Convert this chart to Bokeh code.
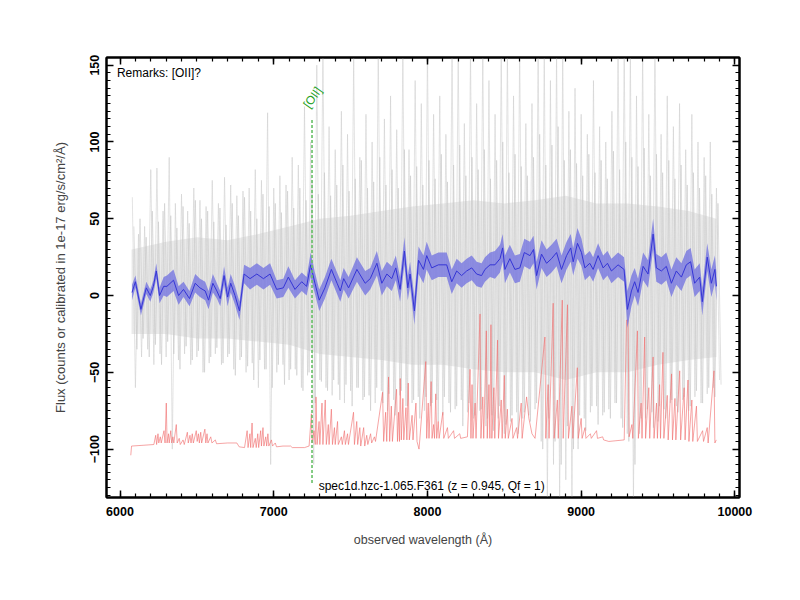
from bokeh.plotting import figure
from bokeh.models import LinearAxis, SingleIntervalTicker
from bokeh.embed import file_html
from bokeh.resources import INLINE
from bokeh.core.properties import value

# ---------------- data ----------------
# grey raw spectrum: tall spikes (upper / lower extent), sampled every 40 A
grey_wave = list(range(6080, 9881, 40))
grey_hi = [64, 40, 45, 82, 83, 55,
           90, 60, 66, 55, 70, 62, 58, 75,
           60, 77, 72, 65, 68, 70, 82, 75, 119,
           70, 78, 72, 90, 85, 123, 100, 150,
           160, 110, 95, 120, 105, 155, 90, 118,
           100, 160, 115, 130, 108, 160, 95, 140, 125,
           160, 118, 130, 105, 160, 160, 112, 160,
           125, 160, 140, 118, 160, 160, 130, 160,
           112, 125, 160, 160, 140, 160, 160, 120,
           135, 118, 105, 140, 110, 100, 120, 160,
           160, 160, 130, 160, 118, 160, 105, 130,
           110, 125, 95, 118, 100, 90, 100, 70]
grey_lo = [-60, -40, -35, -45, -38, -40,
           -100, -42, -38, -45, -40, -50, -44, -38,
           -45, -40, -48, -42, -50, -44, -60, -48, -110,
           -50, -45, -55, -48, -60, -52, -110, -55,
           -60, -65, -58, -70, -62, -60, -68, -65,
           -70, -62, -75, -68, -65, -72, -70, -66, -75,
           -72, -68, -78, -70, -74, -68, -76, -80,
           -75, -85, -78, -80, -90, -82, -76, -80,
           -78, -74, -95, -135, -110, -135, -120, -135,
           -100, -80, -76, -72, -78, -74, -70, -80,
           -90, -135, -90, -80, -76, -82, -74, -70,
           -72, -68, -75, -66, -70, -64, -60, -55]
# grey raw spectrum: medium pixels in between (sampled at 40 A, offset 10 A)
grey2_wave = list(range(6090, 9891, 40))
grey2_hi = [45, 50, 38, 55, 48, 60,
            52, 44, 58, 47, 62, 50, 55, 48,
            57, 46, 60, 52, 64, 55, 50, 66, 58,
            60, 54, 68, 57, 70, 62, 75, 66,
            80, 65, 72, 85, 68, 76, 88, 70,
            74, 90, 72, 82, 70, 95, 78, 84, 72,
            88, 76, 92, 74, 85, 98, 78, 90,
            82, 95, 76, 88, 100, 80, 92, 84,
            78, 90, 105, 85, 98, 110, 88, 95,
            86, 78, 92, 80, 88, 76, 94, 82,
            100, 90, 84, 96, 78, 92, 80, 88,
            76, 85, 72, 80, 70, 78, 66, 60]
grey2_lo = [-35, -28, -40, -32, -45, -30,
            -38, -48, -33, -42, -36, -50, -40, -34,
            -44, -38, -52, -40, -46, -55, -42, -48, -60,
            -45, -58, -48, -52, -62, -50, -70, -56,
            -62, -55, -68, -58, -72, -60, -66, -75,
            -60, -70, -64, -78, -62, -72, -68, -80, -66,
            -70, -82, -66, -76, -72, -85, -70, -78,
            -74, -80, -88, -72, -84, -78, -90, -76,
            -82, -70, -100, -80, -95, -110, -85, -100,
            -78, -88, -72, -84, -76, -80, -70, -86,
            -95, -110, -80, -74, -86, -72, -80, -68,
            -76, -66, -72, -62, -70, -60, -66, -58]
# dense core of the grey spectrum
core_wave = [6075, 6300, 6500, 6700, 6900, 7100, 7300, 7500, 7700, 7900,
             8100, 8300, 8500, 8700, 8900, 9100, 9300, 9500, 9700, 9880]
core_hi = [30, 35, 38, 36, 40, 45, 50, 52, 55, 58,
           60, 62, 60, 62, 65, 60, 60, 58, 55, 50]
core_lo = [-25, -25, -28, -28, -30, -32, -38, -40, -42, -45,
           -45, -48, -50, -50, -55, -50, -50, -45, -42, -40]

# smoothed flux (blue) and its error
blue_wave = [6078, 6100, 6136, 6171, 6197, 6217, 6236, 6257, 6284, 6305,
             6348, 6381, 6413, 6452, 6489, 6520, 6554, 6576, 6604, 6630,
             6652, 6677, 6700, 6720, 6748, 6777, 6807, 6846, 6890, 6933,
             6976, 7019, 7062, 7095, 7138, 7182, 7214, 7240, 7268, 7296,
             7333, 7375, 7412, 7433, 7455, 7487, 7541, 7595, 7628, 7671,
             7703, 7736, 7768, 7794, 7822, 7850, 7872, 7887, 7915, 7942,
             7974, 7995, 8028, 8071, 8125, 8158, 8190, 8222, 8255, 8288,
             8320, 8352, 8374, 8407, 8439, 8472, 8489, 8504, 8536, 8569,
             8601, 8630, 8667, 8690, 8710, 8742, 8775, 8807, 8840, 8872,
             8905, 8932, 8948, 8976, 9002, 9024, 9056, 9078, 9110, 9143,
             9171, 9197, 9240, 9279, 9301, 9327, 9348, 9370, 9403, 9435,
             9468, 9489, 9522, 9554, 9587, 9619, 9652, 9684, 9712, 9738,
             9771, 9788, 9820, 9847, 9870, 9880]
blue_flux = [2, 9, -9, 5, 0, 6, 16, 0, 6, 6,
             10, 0, 4, -2, 8, 5, 3, -3, 8, 3,
             -2, 13, -1, 8, 0, -10, 14, 11, 14, 11,
             14, 4, 5, 12, 4, 9, 6, 20, 8, -3,
             5, 17, 8, 3, 11, 5, 17, 8, 11, 21,
             8, 14, 11, 18, 4, 29, 5, 14, -10, 23,
             17, 26, 18, 20, 20, 9, 16, 13, 16, 18,
             14, 13, 17, 20, 20, 24, 31, 17, 24, 17,
             18, 28, 26, 30, 13, 27, 21, 24, 28, 17,
             26, 31, 22, 34, 28, 18, 21, 17, 26, 18,
             21, 16, 20, 17, -9, 3, 9, 2, 19, 14,
             40, 18, 16, 19, 8, 16, 12, 20, 22, 8,
             12, -4, 25, 8, 17, 6]
blue_err = [5, 4, 4, 4, 4, 4, 5, 5, 6, 7,
            7, 6, 5, 5, 6, 6, 6, 6, 6, 5,
            5, 6, 6, 6, 6, 6, 6, 7, 7, 7,
            7, 6, 6, 7, 6, 6, 6, 8, 7, 7,
            7, 7, 7, 7, 7, 7, 8, 8, 7, 8,
            8, 8, 8, 8, 8, 9, 8, 8, 9, 9,
            9, 9, 8, 8, 8, 8, 8, 8, 8, 8,
            8, 8, 8, 8, 9, 9, 9, 9, 9, 9,
            9, 9, 9, 9, 9, 9, 9, 9, 9, 9,
            9, 9, 9, 10, 9, 8, 8, 8, 8, 8,
            8, 8, 8, 8, 12, 10, 9, 9, 9, 9,
            10, 9, 9, 9, 9, 9, 9, 9, 9, 9,
            9, 9, 9, 9, 9, 9]

# sky / error spectrum (red), offset near -95
red_pts = [(6070, -104), (6075, -98), (6150, -97.5), (6220, -97), (6232, -91), (6238, -97),
           (6247, -90), (6252, -96), (6262, -92), (6268, -96), (6286, -88), (6293, -96),
           (6301, -70), (6306, -96), (6315, -90), (6320, -96), (6330, -88), (6336, -96),
           (6344, -92), (6350, -96), (6366, -84), (6372, -96), (6385, -93), (6392, -97),
           (6410, -94), (6418, -97), (6438, -89), (6444, -96), (6455, -91), (6462, -96),
           (6470, -90), (6477, -96), (6496, -88), (6502, -95), (6510, -90), (6516, -96),
           (6525, -89), (6531, -96), (6552, -87), (6558, -96), (6566, -90), (6572, -96),
           (6590, -92), (6598, -96), (6620, -94), (6628, -96.5), (6700, -96), (6760, -96),
           (6775, -98.5), (6810, -99), (6827, -88), (6833, -99), (6845, -90), (6850, -99),
           (6859, -83), (6865, -99), (6880, -93), (6886, -99), (6896, -90), (6902, -99),
           (6915, -88), (6920, -98), (6930, -86), (6936, -98), (6948, -92), (6954, -98),
           (6962, -90), (6968, -98), (6985, -94), (6992, -98), (7010, -96), (7018, -98.5),
           (7060, -98), (7110, -98), (7120, -99), (7200, -99), (7230, -98), (7245, -77),
           (7250, -96), (7262, -88), (7270, -97), (7275, -66), (7282, -97), (7295, -82),
           (7300, -97), (7314, -70), (7320, -97), (7335, -68), (7342, -97), (7355, -84),
           (7360, -97), (7375, -74), (7382, -97), (7395, -86), (7400, -97), (7415, -82),
           (7420, -97), (7440, -92), (7446, -97), (7460, -88), (7466, -97), (7480, -90),
           (7486, -97), (7519, -76), (7525, -97), (7540, -82), (7546, -97), (7560, -86),
           (7566, -98), (7585, -86), (7592, -98), (7605, -91), (7612, -97), (7630, -90),
           (7637, -96), (7655, -92), (7662, -95), (7708, -63), (7715, -95), (7728, -76),
           (7735, -95), (7747, -53), (7754, -95), (7765, -72), (7772, -95), (7799, -61),
           (7805, -95), (7812, -76), (7818, -95), (7823, -54), (7830, -94), (7840, -67),
           (7846, -94), (7860, -73), (7866, -94), (7875, -57), (7882, -94), (7900, -78),
           (7906, -94), (7925, -70), (7932, -95), (7945, -100), (7950, -94), (7989, -43),
           (7995, -93), (8005, -70), (8010, -93), (8024, -56), (8030, -93), (8040, -84),
           (8046, -93), (8054, -64), (8060, -93), (8070, -82), (8076, -93), (8100, -76),
           (8106, -93), (8130, -86), (8136, -93), (8170, -88), (8176, -93), (8210, -90),
           (8216, -93), (8260, -92), (8277, -48), (8283, -93), (8290, -58), (8296, -93),
           (8310, -70), (8316, -93), (8342, -12), (8348, -93), (8360, -66), (8366, -93),
           (8383, -23), (8389, -93), (8400, -58), (8406, -93), (8413, -19), (8419, -93),
           (8432, -60), (8438, -93), (8456, -29), (8462, -93), (8480, -68), (8486, -93),
           (8500, -52), (8506, -93), (8520, -74), (8526, -93), (8550, -80), (8556, -93),
           (8580, -86), (8586, -93), (8610, -70), (8616, -93), (8645, -66), (8660, -80),
           (8680, -90), (8700, -93), (8764, -27), (8770, -93), (8785, -58), (8791, -93),
           (8818, -5), (8824, -93), (8845, -68), (8851, -93), (8877, -3), (8883, -93),
           (8911, -6), (8917, -93), (8940, -72), (8946, -93), (8975, -47), (8981, -93),
           (9000, -80), (9006, -93), (9025, -86), (9031, -93), (9060, -90), (9066, -93),
           (9100, -88), (9106, -93), (9140, -92), (9146, -94), (9180, -95), (9280, -94),
           (9295, -16), (9305, -16), (9312, -92), (9330, -84), (9336, -93), (9366, -23),
           (9372, -93), (9390, -70), (9396, -93), (9413, -27), (9419, -93), (9440, -60),
           (9446, -93), (9468, -40), (9474, -93), (9490, -70), (9496, -93), (9510, -58),
           (9516, -93), (9532, -37), (9538, -93), (9560, -65), (9566, -94), (9588, -51),
           (9594, -94), (9610, -67), (9616, -94), (9641, -49), (9647, -94), (9670, -60),
           (9676, -94), (9695, -55), (9701, -95), (9720, -68), (9726, -95), (9750, -72),
           (9756, -95), (9790, -88), (9796, -95), (9820, -86), (9826, -96), (9864, -49),
           (9870, -96), (9879, -94)]
red_wave = [w for w, f in red_pts]
red_flux = [f for w, f in red_pts]

line_name = "[OII]"
line_wave = 7249
line_top = 115
line_bottom = -122
remarks = "Remarks: [OII]?"
spec_label = "spec1d.hzc-1.065.F361 (z = 0.945, Qf = 1)"

# ---------------- figure ----------------
FONT = "Liberation Sans"
p = figure(width=784, height=584, x_range=(5912, 10030), y_range=(-131.5, 155),
           output_backend="svg", toolbar_location=None,
           min_border_left=106, min_border_right=45, min_border_top=57, min_border_bottom=87)
p.xgrid.visible = False
p.ygrid.visible = False
p.outline_line_color = "black"
p.outline_line_width = 2
p.background_fill_color = "white"
p.border_fill_color = "white"

# grey raw spectrum
p.varea(x=core_wave, y1=core_lo, y2=core_hi, fill_color="#d8d8d8", fill_alpha=0.55)
zz_x, zz_y = [], []
for w, h, l in zip(grey_wave, grey_hi, grey_lo):
    zz_x += [w, w + 20]
    zz_y += [h, l]
p.line(zz_x, zz_y, line_color="#cccccc", line_width=0.8, line_alpha=0.7)
zz2_x, zz2_y = [], []
for w, h, l in zip(grey2_wave, grey2_hi, grey2_lo):
    zz2_x += [w, w + 20]
    zz2_y += [h, l]
p.line(zz2_x, zz2_y, line_color="#c8c8c8", line_width=0.8, line_alpha=0.7)

# red sky spectrum
p.line(red_wave, red_flux, line_color="#f07070", line_width=0.9, line_alpha=0.7)

# blue smoothed flux with error band
b_lo = [f - e for f, e in zip(blue_flux, blue_err)]
b_hi = [f + e for f, e in zip(blue_flux, blue_err)]
p.varea(x=blue_wave, y1=b_lo, y2=b_hi, fill_color="#6f6fe0", fill_alpha=0.75)
p.line(blue_wave, blue_flux, line_color="#3535d5", line_width=1.0)

# emission line marker
p.segment(x0=[line_wave], y0=[line_bottom], x1=[line_wave], y1=[line_top],
          line_color="#66c066", line_width=1.6, line_dash="3 2")
p.text(x=[line_wave + 4], y=[129], text=[line_name], angle=55, angle_units="deg",
       text_align="center", text_baseline="middle", text_color="#22a022",
       text_font=value(FONT), text_font_size="12px")

p.text(x=[5980], y=[145], text=[remarks], text_align="left", text_baseline="middle",
       text_color="black", text_font=value(FONT), text_font_size="12px")
p.text(x=[7292], y=[-124], text=[spec_label], text_align="left", text_baseline="middle",
       text_color="black", text_font=value(FONT), text_font_size="12px")

# ---------------- axes ----------------
def style(ax, labels=True):
    ax.axis_line_width = 2
    ax.axis_line_color = "black"
    ax.major_tick_in = 7
    ax.major_tick_out = 0
    ax.minor_tick_in = 4
    ax.minor_tick_out = 0
    ax.major_tick_line_width = 1.5
    ax.minor_tick_line_width = 1.2
    ax.major_tick_line_color = "black"
    ax.minor_tick_line_color = "black"
    ax.major_label_text_font = FONT
    ax.major_label_text_font_style = "bold"
    ax.major_label_text_font_size = "12.5px"
    ax.major_label_text_color = "black"
    ax.axis_label_text_font = FONT
    ax.axis_label_text_font_style = "normal"
    ax.axis_label_text_font_size = "12.5px"
    if not labels:
        ax.major_label_text_font_size = "0px"
        ax.major_label_text_color = None

xt = lambda: SingleIntervalTicker(interval=1000, num_minor_ticks=10)
yt = lambda: SingleIntervalTicker(interval=50, num_minor_ticks=10)

p.xaxis.ticker = xt()
p.yaxis.ticker = yt()
style(p.xaxis[0])
style(p.yaxis[0])
p.xaxis.axis_label = "observed wavelength (Å)"
p.yaxis.axis_label = "Flux (counts or calibrated in 1e-17 erg/s/cm²/Å)"
p.yaxis.axis_label_text_font_size = "13px"
p.yaxis.major_label_orientation = "vertical"
p.xaxis.major_label_standoff = 9
p.yaxis.major_label_standoff = 7
p.xaxis.axis_label_standoff = 14
p.yaxis.axis_label_standoff = 20

top = LinearAxis(ticker=xt())
style(top, labels=False)
p.add_layout(top, "above")
right = LinearAxis(ticker=yt())
style(right, labels=False)
p.add_layout(right, "right")

open("out.html", "w").write(file_html(p, INLINE))
